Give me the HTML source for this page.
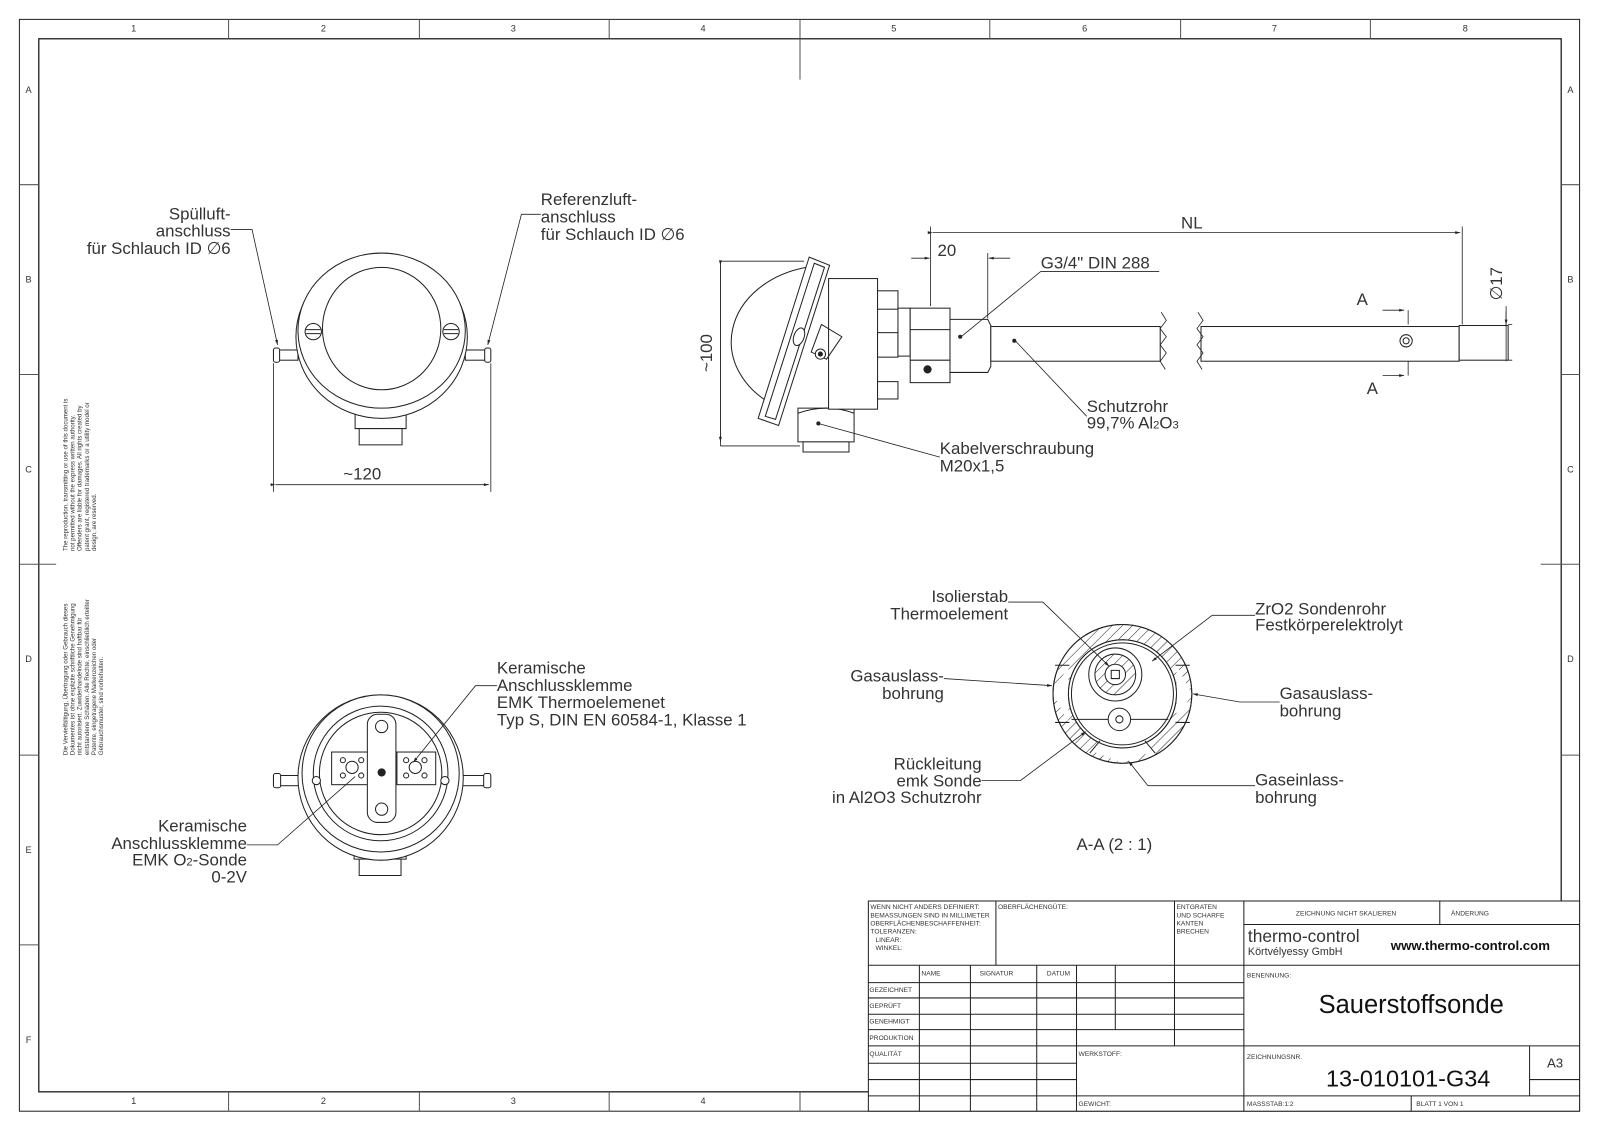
<!DOCTYPE html>
<html><head><meta charset="utf-8"><style>
html,body{margin:0;padding:0;background:#fff}
svg{display:block}
text{font-family:"Liberation Sans",sans-serif;fill:#333}
.l{font-size:16.5px}
.s{font-size:6.5px;fill:#555}
.z{font-size:9px;fill:#888}
</style></head><body>
<svg width="1600" height="1131" viewBox="0 0 1568 1108.4" xmlns="http://www.w3.org/2000/svg">
<defs>
<pattern id="h" width="7" height="7" patternUnits="userSpaceOnUse" patternTransform="rotate(45)"><line x1="0" y1="0" x2="0" y2="7" stroke="#222" stroke-width="1"/></pattern>
<marker id="a" viewBox="0 0 10 10" refX="10" refY="5" markerWidth="8" markerHeight="6" orient="auto"><path d="M0,2 L10,5 L0,8z" fill="#222"/></marker>
</defs>
<g fill="none" stroke="#222" stroke-width="1">
<!-- frame -->
<rect x="19" y="19" width="1529" height="1070"/>
<rect x="38" y="38" width="1492" height="1032" stroke-width="1.3"/>
<path d="M224,19V38M411,19V38M597,19V38M784,19V78M970,19V38M1157,19V38M1343,19V38
M224,1070V1089M411,1070V1089M597,1070V1089M784,1070V1089
M19,181H38M19,367H38M19,553H55M19,740H38M19,926H38
M1530,181H1548M1530,367H1548M1510,553H1548M1530,740H1548M1530,926H1548" stroke="#555"/>
<!-- title block -->
<rect x="851" y="883" width="697" height="206" fill="#fff"/>
<path d="M851,946H1548M1219,906H1548M851,963H1219M851,978H1219M851,994H1219M851,1009H1219M851,1025H1548M851,1042H1055M851,1058H1055M851,1074H1548M1499,1058H1548
M976,883V946M1151,883V1025M1219,883V1089M1411,883V906M901,946V1089M951,946V1089M1016,946V1089M1055,946V1089M1093,946V1009M1499,1025V1074M1383,1074V1089"/>
</g>
<g class="z" text-anchor="middle">
<text x="131" y="31">1</text><text x="317" y="31">2</text><text x="503" y="31">3</text><text x="689" y="31">4</text><text x="876" y="31">5</text><text x="1063" y="31">6</text><text x="1249" y="31">7</text><text x="1436" y="31">8</text>
<text x="131" y="1082">1</text><text x="317" y="1082">2</text><text x="503" y="1082">3</text><text x="689" y="1082">4</text>
<text x="28" y="91">A</text><text x="28" y="277">B</text><text x="28" y="463">C</text><text x="28" y="649">D</text><text x="28" y="836">E</text><text x="28" y="1022">F</text>
<text x="1539" y="91">A</text><text x="1539" y="277">B</text><text x="1539" y="463">C</text><text x="1539" y="649">D</text>
</g>
<g class="s">
<text x="853" y="891">WENN NICHT ANDERS DEFINIERT:</text>
<text x="853" y="899">BEMASSUNGEN SIND IN MILLIMETER</text>
<text x="853" y="907">OBERFLÄCHENBESCHAFFENHEIT:</text>
<text x="853" y="915">TOLERANZEN:</text>
<text x="858" y="923">LINEAR:</text><text x="858" y="931">WINKEL:</text>
<text x="978" y="891">OBERFLÄCHENGÜTE:</text>
<text x="1153" y="891">ENTGRATEN</text><text x="1153" y="899">UND SCHARFE</text><text x="1153" y="907">KANTEN</text><text x="1153" y="915">BRECHEN</text>
<text x="1270" y="897">ZEICHNUNG NICHT SKALIEREN</text><text x="1422" y="897">ÄNDERUNG</text>
<text x="903" y="956">NAME</text><text x="960" y="956">SIGNATUR</text><text x="1026" y="956">DATUM</text>
<text x="852" y="972">GEZEICHNET</text><text x="852" y="988">GEPRÜFT</text><text x="852" y="1003">GENEHMIGT</text><text x="852" y="1019">PRODUKTION</text><text x="852" y="1035">QUALITÄT</text>
<text x="1057" y="1035">WERKSTOFF:</text><text x="1057" y="1084">GEWICHT:</text>
<text x="1222" y="958">BENENNUNG:</text><text x="1222" y="1038">ZEICHNUNGSNR.</text>
<text x="1222" y="1084">MASSSTAB:1:2</text><text x="1388" y="1084">BLATT 1 VON 1</text>
</g>
<text x="1223" y="923" style="font-size:17px">thermo-control</text>
<text x="1223" y="936" style="font-size:10.5px">Körtvélyessy GmbH</text>
<text x="1363" y="931" style="font-size:13px;font-weight:bold;fill:#111">www.thermo-control.com</text>
<text x="1383" y="993" text-anchor="middle" style="font-size:25px;fill:#111">Sauerstoffsonde</text>
<text x="1380" y="1065" text-anchor="middle" style="font-size:23px;fill:#111">13-010101-G34</text>
<text x="1524" y="1046" text-anchor="middle" style="font-size:13px">A3</text>
<!-- side copyright text -->
<g class="s" style="font-size:6px">
<text transform="translate(66,540) rotate(-90)">The reproduction, transmitting or use of this document is</text>
<text transform="translate(73,540) rotate(-90)">not permitted without the express written authority.</text>
<text transform="translate(80,540) rotate(-90)">Offenders are liable for damages. All rights created by</text>
<text transform="translate(87,540) rotate(-90)">patent grant, registered trademarks or a utility model or</text>
<text transform="translate(94,540) rotate(-90)">design, are reserved.</text>
<text transform="translate(66,740) rotate(-90)">Die Vervielfältigung, Übertragung oder Gebrauch dieses</text>
<text transform="translate(73,740) rotate(-90)">Dokumentes ist ohne explizite schriftliche Genehmigung</text>
<text transform="translate(80,740) rotate(-90)">nicht autorisiert. Zuwiderhandelnde sind haftbar für</text>
<text transform="translate(87,740) rotate(-90)">entstandene Schäden. Alle Rechte, einschließlich erteilter</text>
<text transform="translate(94,740) rotate(-90)">Patente, eingetragene Markenzeichen oder</text>
<text transform="translate(101,740) rotate(-90)">Gebrauchsmuster, sind vorbehalten.</text>
</g>

<!-- VIEW 1 front -->
<g fill="#fff" stroke="#222" stroke-width="1">
<path d="M348,400h50v20h-50z M352,420h42v16h-42z"/>
<rect x="268" y="343" width="24" height="10"/><rect x="268" y="341" width="6" height="14" rx="2"/>
<rect x="456" y="343" width="24" height="10"/><rect x="475" y="341" width="6" height="14" rx="2"/>
<ellipse cx="374" cy="330" rx="84" ry="80"/>
<ellipse cx="374" cy="324" rx="82" ry="76"/>
<ellipse cx="374" cy="322" rx="58" ry="60"/>
<circle cx="307" cy="325" r="8"/><path d="M300,323h14M300,327h14"/>
<circle cx="442" cy="325" r="8"/><path d="M435,323h14M435,327h14"/>
</g>
<g fill="none" stroke="#222" stroke-width="0.8">
<path d="M268,356V482M481,356V482"/>
<path d="M270,475H479" marker-start="url(#a)" marker-end="url(#a)"/>
<path d="M226,225H247L272,338" marker-end="url(#a)"/>
<path d="M530,210H511L478,338" marker-end="url(#a)"/>
</g>
<text class="l" x="355" y="470" text-anchor="middle">~120</text>
<g class="l" text-anchor="end"><text x="226" y="215">Spülluft-</text><text x="226" y="232">anschluss</text><text x="226" y="249">für Schlauch ID  ∅6</text></g>
<g class="l"><text x="530" y="201">Referenzluft-</text><text x="530" y="218">anschluss</text><text x="530" y="235">für Schlauch ID  ∅6</text></g>

<!-- VIEW 2 side -->
<g fill="#fff" stroke="#222" stroke-width="1">
<path d="M782,400h55v33h-55z"/><path d="M787,433h45v10h-45z"/>
<path d="M782,405q28,-10 55,0" fill="none"/>
<rect x="812" y="273" width="48" height="128"/>
<rect x="860" y="285" width="20" height="18"/><rect x="860" y="326" width="20" height="24"/><rect x="860" y="374" width="20" height="17"/>
<rect x="880" y="302" width="12" height="47"/>
<rect x="892" y="302" width="39" height="73"/><path d="M892,323h39M892,353h39"/>
<circle cx="909" cy="362" r="3.5" fill="#222"/>
<path d="M931,313h37l3,6v40l-3,6h-37z"/>
<rect x="971" y="320" width="166" height="34"/>
<rect x="1177" y="320" width="253" height="34"/>
<rect x="1430" y="319" width="48" height="34"/>
<path d="M790,262 A95,75 0 0 0 760,398" fill="none"/>
<path d="M793,252 L813,260 L763,417 L743,410z"/>
<path d="M798,258 L808,262 L760,411 L750,408z" fill="none"/>
<path d="M805,318 L825,330 L810,352 L795,345z" fill="none"/>
<circle cx="804" cy="347" r="5"/><circle cx="804" cy="347" r="2" fill="#222"/>
<ellipse cx="783" cy="330" rx="5" ry="9" transform="rotate(20 783 330)"/>
<circle cx="1378" cy="334" r="6"/><circle cx="1378" cy="334" r="3"/>
</g>
<rect x="1140" y="315" width="36" height="44" fill="#fff"/>
<g fill="none" stroke="#222" stroke-width="0.8">
<path d="M1138,306l5,8l-6,8l6,8l-6,8l6,8l-6,8l5,8 M1174,306l5,8l-6,8l6,8l-6,8l6,8l-6,8l5,8"/>
<path d="M706,256V437M706,256h82M706,437h78"/>
<path d="M706,260V433" marker-start="url(#a)" marker-end="url(#a)"/>
<path d="M912,222V300M968,248V312M1433,222V318"/>
<path d="M914,228H1431" marker-start="url(#a)" marker-end="url(#a)"/>
<path d="M893,253H911" marker-end="url(#a)"/><path d="M990,253H969" marker-end="url(#a)"/>
<path d="M1478,318h4M1478,353h4M1476,300V354"/>
<path d="M1476,305V318" marker-end="url(#a)"/>
<path d="M1355,304H1376" marker-end="url(#a)"/><path d="M1380,304V318"/>
<path d="M1355,368H1376" marker-end="url(#a)"/><path d="M1380,368V354"/>
<path d="M1020,266H1136M1020,266L942,330"/>
<path d="M1065,408L995,334"/>
<path d="M921,448L802,415"/>
</g>
<g fill="#222"><circle cx="941" cy="330" r="2"/><circle cx="994" cy="334" r="2"/><circle cx="802" cy="415" r="2"/></g>
<text class="l" transform="translate(698,346) rotate(-90)" text-anchor="middle">~100</text>
<text class="l" transform="translate(1472,278) rotate(-90)" text-anchor="middle">∅17</text>
<text class="l" x="928" y="251" text-anchor="middle">20</text>
<text class="l" x="1168" y="224" text-anchor="middle">NL</text>
<text class="l" x="1335" y="299" text-anchor="middle">A</text><text class="l" x="1345" y="386" text-anchor="middle">A</text>
<text class="l" x="1020" y="263">G3/4" DIN 288</text>
<text class="l" x="1065" y="404">Schutzrohr</text><text class="l" x="1065" y="420">99,7% Al<tspan style="font-size:11px">2</tspan>O<tspan style="font-size:11px">3</tspan></text>
<text class="l" x="921" y="445">Kabelverschraubung</text><text class="l" x="921" y="462">M20x1,5</text>

<!-- VIEW 3 terminals -->
<g fill="#fff" stroke="#222" stroke-width="1">
<path d="M347,820h51v22h-51z M352,842h41v16h-41z"/>
<rect x="268" y="760" width="25" height="10"/><rect x="268" y="758" width="7" height="14" rx="2"/>
<rect x="453" y="760" width="27" height="10"/><rect x="474" y="758" width="7" height="14" rx="2"/>
<circle cx="373" cy="762" r="81"/><circle cx="373" cy="758" r="77"/>
<circle cx="373" cy="758" r="66"/><circle cx="373" cy="758" r="60"/>
<circle cx="310" cy="765" r="4"/><circle cx="436" cy="765" r="4"/>
<rect x="325" y="737" width="38" height="32"/><rect x="389" y="737" width="38" height="32"/>
<rect x="360" y="700" width="28" height="106" rx="10"/>
<circle cx="374" cy="712" r="6"/><circle cx="374" cy="793" r="6"/>
<circle cx="345" cy="752" r="6"/><circle cx="407" cy="752" r="6"/>
<circle cx="336" cy="745" r="2.5"/><circle cx="354" cy="745" r="2.5"/><circle cx="336" cy="760" r="2.5"/><circle cx="354" cy="760" r="2.5"/>
<circle cx="398" cy="745" r="2.5"/><circle cx="416" cy="745" r="2.5"/><circle cx="398" cy="760" r="2.5"/><circle cx="416" cy="760" r="2.5"/>
<circle cx="374" cy="757" r="3.5" fill="#222"/>
</g>
<g fill="none" stroke="#222" stroke-width="0.8">
<path d="M487,672H466L405,747" marker-end="url(#a)"/>
<path d="M242,828H272L348,761"/>
</g>
<g class="l"><text x="487" y="660">Keramische</text><text x="487" y="677">Anschlussklemme</text><text x="487" y="694">EMK Thermoelemenet</text><text x="487" y="711">Typ S, DIN EN 60584-1, Klasse 1</text></g>
<g class="l" text-anchor="end"><text x="242" y="815">Keramische</text><text x="242" y="832">Anschlussklemme</text><text x="242" y="848">EMK O<tspan style="font-size:11px">2</tspan>-Sonde</text><text x="242" y="865">0-2V</text></g>

<!-- SECTION A-A -->
<g stroke="#222" stroke-width="1">
<path d="M1100,612 A68,68 0 1 1 1099.9,612 Z M1100,627 A53,53 0 1 0 1100.1,627 Z" fill="url(#h)" fill-rule="evenodd"/>
<path d="M1032,680 l15,-28 v56z M1168,680 l-15,-28 v56z M1100,748 l-30,-12 l8,-10 h44 l8,10z" fill="#fff" stroke="none"/>
<circle cx="1100" cy="680" r="68" fill="none"/>
<circle cx="1100" cy="680" r="53" fill="none"/><circle cx="1100" cy="680" r="50" fill="none"/>
<path d="M1034,652h14M1034,708h14M1152,652h14M1152,708h14M1068,738l10,-12M1132,738l-10,-12" fill="none"/>
<circle cx="1093" cy="661" r="26" fill="#fff"/>
<circle cx="1093" cy="661" r="20" fill="url(#h)"/>
<circle cx="1093" cy="661" r="10" fill="#fff"/>
<path d="M1089,657h8v8h-8z" fill="none"/>
<path d="M1050,705H1145" fill="none"/>
<circle cx="1097" cy="705" r="11" fill="#fff"/><circle cx="1097" cy="705" r="3.5" fill="#fff"/>
</g>
<g fill="none" stroke="#222" stroke-width="0.8">
<path d="M988,590H1022L1087,653" marker-end="url(#a)"/>
<path d="M1230,603H1188L1129,648" marker-end="url(#a)"/>
<path d="M925,665L1031,672" marker-end="url(#a)"/>
<path d="M1254,688H1215L1169,680" marker-end="url(#a)"/>
<path d="M962,765H1000L1064,717" marker-end="url(#a)"/>
<path d="M1230,770H1125L1106,746" marker-end="url(#a)"/>
</g>
<g class="l" text-anchor="end">
<text x="988" y="590">Isolierstab</text><text x="988" y="607">Thermoelement</text>
<text x="925" y="668">Gasauslass-</text><text x="925" y="685">bohrung</text>
<text x="962" y="754">Rückleitung</text><text x="962" y="771">emk Sonde</text><text x="962" y="787">in Al2O3 Schutzrohr</text>
</g>
<g class="l">
<text x="1230" y="602">ZrO2 Sondenrohr</text><text x="1230" y="618">Festkörperelektrolyt</text>
<text x="1254" y="685">Gasauslass-</text><text x="1254" y="702">bohrung</text>
<text x="1230" y="770">Gaseinlass-</text><text x="1230" y="787">bohrung</text>
<text x="1055" y="833">A-A (2 : 1)</text>
</g>
</svg>
</body></html>
